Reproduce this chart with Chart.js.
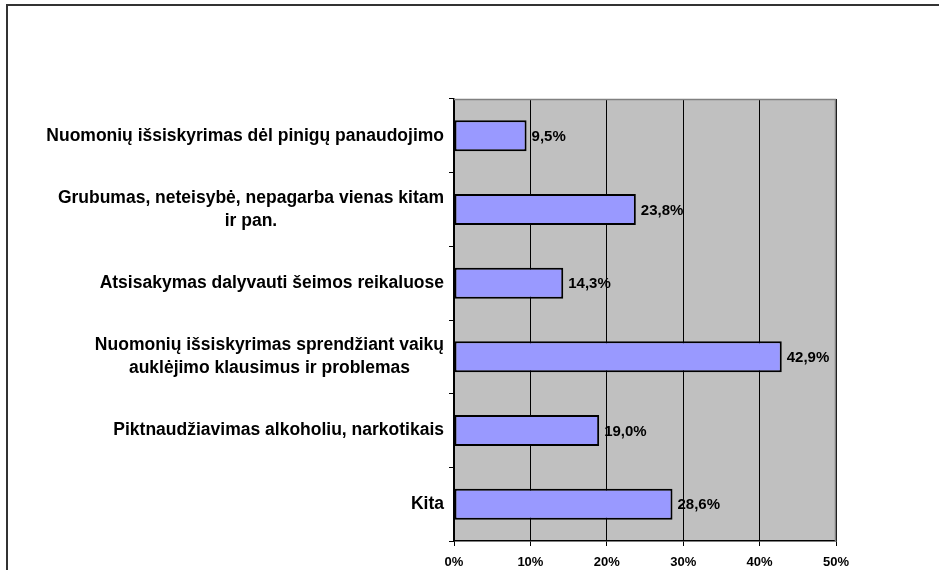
<!DOCTYPE html>
<html>
<head>
<meta charset="utf-8">
<script src="https://cdn.jsdelivr.net/npm/chart.js@4.4.1/dist/chart.umd.min.js"></script>
<style>
  html, body { margin: 0; padding: 0; background: #fff; overflow: hidden; }
  #frame { position: absolute; left: 6px; top: 4px; width: 1200px; height: 800px; border: 2px solid #333; }
  #chart { position: absolute; left: 0; top: 0; }
</style>
</head>
<body>
<div id="frame"></div>
<canvas id="chart" width="939" height="570"></canvas>
<script>
// kategorijos (eilutės pagal ašį)
var categories = [
  ["Nuomonių išsiskyrimas dėl pinigų panaudojimo"],
  ["Grubumas, neteisybė, nepagarba vienas kitam", "ir pan."],
  ["Atsisakymas dalyvauti šeimos reikaluose"],
  ["Nuomonių išsiskyrimas sprendžiant vaikų", "auklėjimo klausimus ir problemas"],
  ["Piktnaudžiavimas alkoholiu, narkotikais"],
  ["Kita"]
];
var values = [9.5, 23.8, 14.3, 42.9, 19.0, 28.6];
var tickMin = 0;
var tickMax = 50;
var tickStep = 10;

var FONT = "'Liberation Sans', Arial, sans-serif";

// pilkas fonas ir rėmelis
var plotBackground = {
  id: 'plotBackground',
  beforeDraw: function(chart) {
    var a = chart.chartArea, ctx = chart.ctx;
    ctx.save();
    ctx.fillStyle = '#C0C0C0';
    ctx.fillRect(a.left, a.top, a.right - a.left, a.bottom - a.top);
    ctx.restore();
  },
  beforeDatasetsDraw: function(chart) {
    var a = chart.chartArea, ctx = chart.ctx;
    ctx.save();
    ctx.strokeStyle = '#808080';
    ctx.lineWidth = 1.5;
    ctx.beginPath();
    ctx.moveTo(a.left, a.top + 0.5);
    ctx.lineTo(a.right - 0.5, a.top + 0.5);
    ctx.lineTo(a.right - 0.5, a.bottom);
    ctx.stroke();
    ctx.restore();
  }
};

// kategorijų pavadinimai ir reikšmių žymės
var labelsPlugin = {
  id: 'labelsPlugin',
  afterDraw: function(chart) {
    var ctx = chart.ctx;
    var yScale = chart.scales.y;
    ctx.save();
    ctx.fillStyle = '#000';
    ctx.textBaseline = 'middle';
    ctx.textAlign = 'center';
    ctx.font = 'bold 17.5px ' + FONT;
    var lineH = 23;
    var rightEdge = yScale.right - 10;
    categories.forEach(function(lines, i) {
      var y = yScale.getPixelForValue(i);
      var maxW = 0;
      lines.forEach(function(l) { maxW = Math.max(maxW, ctx.measureText(l).width); });
      var cx = rightEdge - maxW / 2;
      var y0 = y - (lines.length - 1) * lineH / 2;
      lines.forEach(function(l, j) { ctx.fillText(l, cx, y0 + j * lineH); });
    });

    var meta = chart.getDatasetMeta(0);
    ctx.textAlign = 'left';
    ctx.font = 'bold 15px ' + FONT;
    meta.data.forEach(function(bar, i) {
      var txt = values[i].toFixed(1).replace('.', ',') + '%';
      ctx.fillText(txt, bar.x + 5, bar.y + 1);
    });
    ctx.restore();
  }
};

var ctx = document.getElementById('chart').getContext('2d');
new Chart(ctx, {
  type: 'bar',
  data: {
    labels: categories.map(function(c) { return c.join(' '); }),
    datasets: [{
      data: values,
      backgroundColor: '#9999FF',
      borderColor: '#000000',
      borderWidth: 2,
      borderSkipped: false,
      categoryPercentage: 1,
      barPercentage: 0.42
    }]
  },
  options: {
    indexAxis: 'y',
    responsive: false,
    animation: false,
    layout: { padding: { left: 0, right: 103, top: 99, bottom: 0 } },
    plugins: {
      legend: { display: false },
      tooltip: { enabled: false }
    },
    scales: {
      x: {
        min: tickMin,
        max: tickMax,
        afterFit: function(scale) { scale.height = 29; },
        ticks: {
          stepSize: tickStep,
          color: '#000',
          padding: 9,
          font: { family: FONT, size: 13, weight: 'bold' },
          callback: function(v) { return v + '%'; }
        },
        grid: { color: '#000', lineWidth: 1, tickLength: 5 },
        border: { color: '#000', width: 1.5 }
      },
      y: {
        afterFit: function(scale) { scale.width = 454; },
        ticks: { display: false },
        grid: { offset: true, drawOnChartArea: false, color: '#000', tickLength: 5 },
        border: { color: '#000', width: 1.5 }
      }
    }
  },
  plugins: [plotBackground, labelsPlugin]
});
</script>
</body>
</html>
